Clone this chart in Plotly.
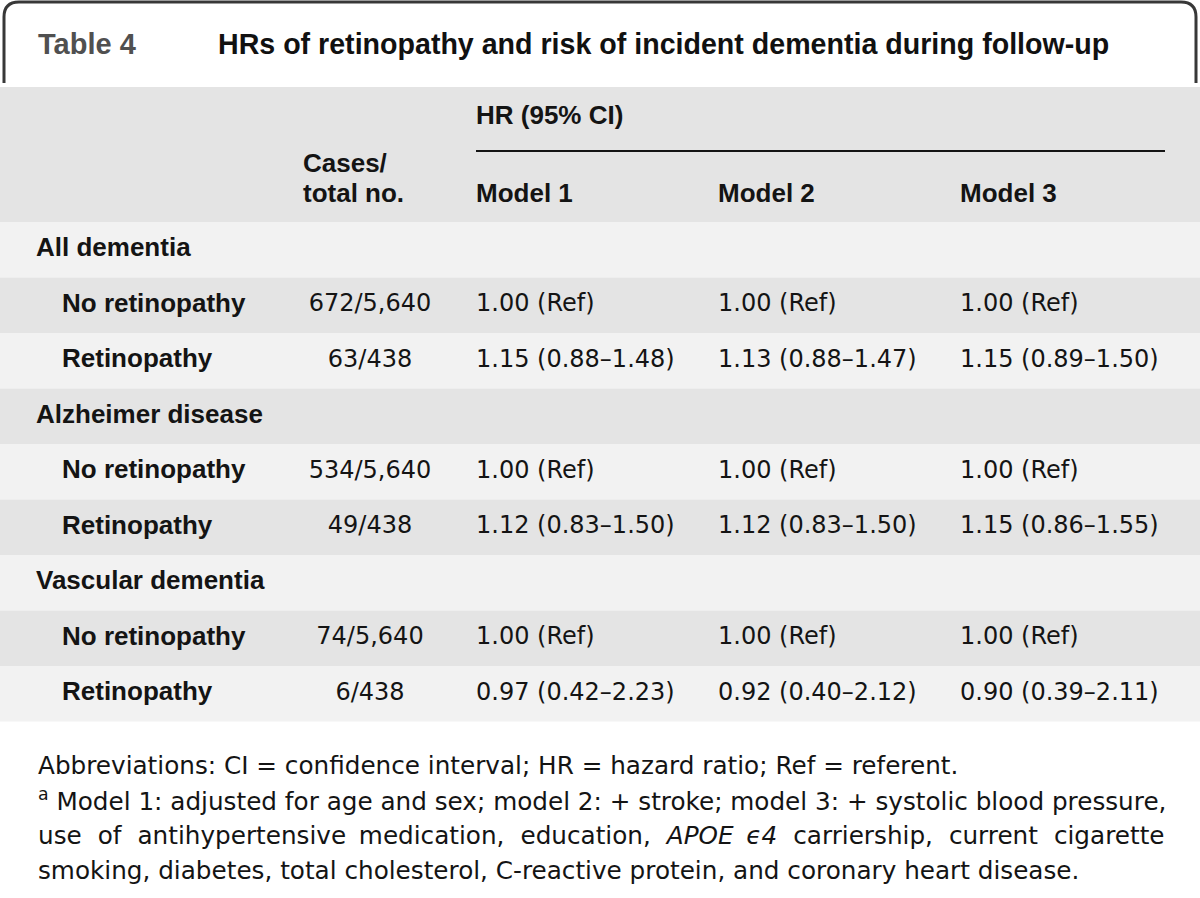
import plotly.graph_objects as go

title_tag = "Table 4"
title_text = "HRs of retinopathy and risk of incident dementia during follow-up"

groups = ["All dementia", "Alzheimer disease", "Vascular dementia"]
exposures = ["No retinopathy", "Retinopathy"]

cases_noret = [672, 534, 74]
total_noret = [5640, 5640, 5640]
cases_ret = [63, 49, 6]
total_ret = [438, 438, 438]

# HR (95% CI) of retinopathy, no retinopathy is the referent
hr_m1 = [1.15, 1.12, 0.97]
lo_m1 = [0.88, 0.83, 0.42]
hi_m1 = [1.48, 1.50, 2.23]
hr_m2 = [1.13, 1.12, 0.92]
lo_m2 = [0.88, 0.83, 0.40]
hi_m2 = [1.47, 1.50, 2.12]
hr_m3 = [1.15, 1.15, 0.90]
lo_m3 = [0.89, 0.86, 0.39]
hi_m3 = [1.50, 1.55, 2.11]

model_names = ["Model 1", "Model 2", "Model 3"]
ref_label = "1.00 (Ref)"

footnotes = [
    "Abbreviations: CI = confidence interval; HR = hazard ratio; Ref = referent.",
    "<sup>a</sup> Model 1: adjusted for age and sex; model 2: + stroke; model 3: + systolic blood pressure,",
    "use of antihypertensive medication, education, <i>APOE ϵ4</i> carriership, current cigarette",
    "smoking, diabetes, total cholesterol, C-reactive protein, and coronary heart disease.",
]
justified = [False, False, True, False]


def ci(hr, lo, hi):
    return "{:.2f} ({:.2f}–{:.2f})".format(hr, lo, hi)


# build the table rows
labels, indent, cases, m1, m2, m3 = [], [], [], [], [], []
for g in range(len(groups)):
    labels += [groups[g], exposures[0], exposures[1]]
    indent += [False, True, True]
    cases += ["", "{}/{:,}".format(cases_noret[g], total_noret[g]),
              "{}/{:,}".format(cases_ret[g], total_ret[g])]
    m1 += ["", ref_label, ci(hr_m1[g], lo_m1[g], hi_m1[g])]
    m2 += ["", ref_label, ci(hr_m2[g], lo_m2[g], hi_m2[g])]
    m3 += ["", ref_label, ci(hr_m3[g], lo_m3[g], hi_m3[g])]

W, H = 1200, 898
header_top = 87
body_top = 222
row_h = 55.5
x_group, x_sub, x_cases = 36, 62, 370
x_models = [476, 718, 960]
dark = "#e4e4e4"
light = "#f2f2f2"
ink = "#141414"
bold_font = dict(family="Liberation Sans", size=26, color=ink, weight="bold")
reg_font = dict(family="DejaVu Sans", size=24, color=ink)

row_y = [body_top + row_h * (i + 0.5) for i in range(len(labels))]


def column(xpos, texts):
    xs, ys, ts = [], [], []
    for i, t in enumerate(texts):
        if t:
            xs.append(xpos[i] if isinstance(xpos, list) else xpos)
            ys.append(row_y[i])
            ts.append(t)
    return xs, ys, ts


fig = go.Figure()

# row labels
xs, ys, ts = column([x_sub if ind else x_group for ind in indent], labels)
fig.add_trace(go.Scatter(x=xs, y=ys, text=ts, mode="text", textposition="middle right",
                         textfont=bold_font, hoverinfo="skip"))
# cases / total
xs, ys, ts = column(x_cases, cases)
fig.add_trace(go.Scatter(x=xs, y=ys, text=ts, mode="text", textposition="middle center",
                         textfont=reg_font, hoverinfo="skip"))
# model columns
for xm, col in zip(x_models, [m1, m2, m3]):
    xs, ys, ts = column(xm, col)
    fig.add_trace(go.Scatter(x=xs, y=ys, text=ts, mode="text", textposition="middle right",
                             textfont=reg_font, hoverinfo="skip"))

# header texts
fig.add_trace(go.Scatter(
    x=[x_models[0], 303, 303] + x_models,
    y=[117, 165, 195, 195, 195, 195],
    text=["HR (95% CI)", "Cases/", "total no."] + model_names,
    mode="text", textposition="middle right", textfont=bold_font, hoverinfo="skip"))

shapes = []
# header band
shapes.append(dict(type="rect", x0=0, x1=W, y0=header_top, y1=body_top,
                   fillcolor=dark, line_width=0, layer="below"))
# body bands
for i in range(len(labels)):
    shapes.append(dict(type="rect", x0=0, x1=W,
                       y0=body_top + i * row_h, y1=body_top + (i + 1) * row_h,
                       fillcolor=light if i % 2 == 0 else dark,
                       line_width=0, layer="below"))
# rule under HR (95% CI)
shapes.append(dict(type="line", x0=x_models[0], x1=1165, y0=151, y1=151,
                   line=dict(color=ink, width=2)))
# rounded title tab
shapes.append(dict(type="path",
                   path="M 4,83 L 4,17 Q 4,2 19,2 L 1181,2 Q 1196,2 1196,17 L 1196,83",
                   line=dict(color="#383838", width=3)))

annotations = [
    dict(x=36, y=44, text="<b>" + title_tag + "</b>", showarrow=False, xanchor="left",
         yanchor="middle", font=dict(family="Liberation Sans", size=29, color="#505050")),
    dict(x=216, y=44, text="<b>" + title_text + "</b>", showarrow=False, xanchor="left",
         yanchor="middle", font=dict(family="Liberation Sans", size=28.6, color="#111111")),
]
for k, line in enumerate(footnotes):
    if justified[k]:
        # widen word gaps, like the justified print layout
        line = line.replace(", ", ",\u2004 ").replace("use of ", "use\u2004 of\u2004 ")
        line = line.replace("current ", "current\u2004 ")
        line = line.replace("antihypertensive ", "antihypertensive\u2009 ")
        line = line.replace("APOE ", "APOE\u2009 ").replace("</i> ", "</i>\u2004 ")
    annotations.append(dict(x=36, y=765 + 35 * k, text=line, showarrow=False,
                            xanchor="left", yanchor="middle",
                            font=dict(family="DejaVu Sans", size=24.7, color=ink)))

fig.update_layout(
    width=W, height=H,
    margin=dict(l=0, r=0, t=0, b=0),
    paper_bgcolor="white", plot_bgcolor="white",
    showlegend=False,
    shapes=shapes, annotations=annotations,
    xaxis=dict(range=[0, W], visible=False, fixedrange=True),
    yaxis=dict(range=[H, 0], visible=False, fixedrange=True),
)

fig.write_html("out.html", config={"displayModeBar": False},
               post_script="document.body.style.margin='0';")
